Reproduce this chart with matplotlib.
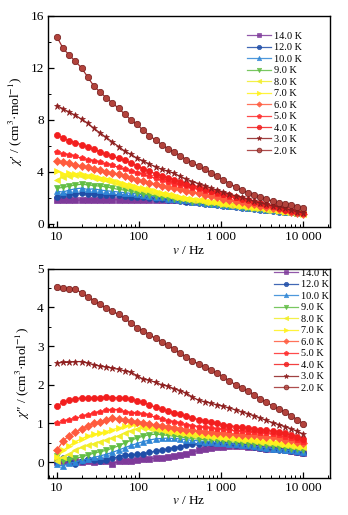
import matplotlib
matplotlib.use("Agg")
import matplotlib.pyplot as plt
from matplotlib.ticker import FixedLocator, LogLocator, NullFormatter, MultipleLocator

plt.rcParams['font.family'] = ['Liberation Serif', 'DejaVu Serif']
plt.rcParams['mathtext.fontset'] = 'stix'

# frequencies (Hz), 10 ... 10000
freq = [10.0, 11.9, 14.1, 16.8, 20.0, 23.7, 28.2, 33.5, 39.8, 47.3,
        56.2, 66.8, 79.4, 94.4, 112.2, 133.4, 158.5, 188.4, 223.9, 266.1,
        316.2, 375.8, 446.7, 530.9, 631.0, 749.9, 891.3, 1059.3, 1258.9, 1496.2,
        1778.3, 2113.5, 2511.9, 2985.4, 3548.1, 4217.0, 5011.9, 5956.6, 7079.5, 8414.0,
        10000.0]

temps = ['14.0 K', '12.0 K', '10.0 K', '9.0 K', '8.0 K', '7.0 K', '6.0 K',
         '5.0 K', '4.0 K', '3.0 K', '2.0 K']

# chi' (in-phase)
chi1_14 = [1.8, 1.8, 1.85, 1.8, 1.85, 1.8, 1.85, 1.8, 1.8, 1.85, 1.85, 1.85, 1.85, 1.85,
           1.85, 1.85, 1.85, 1.85, 1.85, 1.8, 1.8, 1.75, 1.7, 1.65, 1.6, 1.55, 1.5, 1.45,
           1.4, 1.35, 1.3, 1.25, 1.2, 1.15, 1.1, 1.05, 1.0, 0.95, 0.9, 0.85, 0.8]
chi1_12 = [2.1, 2.2, 2.25, 2.3, 2.35, 2.3, 2.3, 2.25, 2.25, 2.2, 2.2, 2.15, 2.1, 2.1,
           2.05, 2.0, 1.95, 1.9, 1.85, 1.8, 1.75, 1.7, 1.65, 1.6, 1.55, 1.5, 1.45, 1.4,
           1.35, 1.3, 1.25, 1.2, 1.15, 1.1, 1.05, 1.0, 0.95, 0.95, 0.9, 0.85, 0.8]
chi1_10 = [2.5, 2.45, 2.6, 2.7, 2.75, 2.65, 2.7, 2.6, 2.55, 2.5, 2.45, 2.4, 2.35, 2.3,
           2.25, 2.15, 2.1, 2.05, 1.95, 1.9, 1.85, 1.8, 1.7, 1.65, 1.6, 1.55, 1.5, 1.45,
           1.4, 1.35, 1.3, 1.25, 1.2, 1.15, 1.1, 1.05, 1.0, 0.95, 0.9, 0.85, 0.8]
chi1_9 = [2.75, 2.8, 2.9, 3.0, 3.05, 3.0, 2.95, 2.9, 2.85, 2.75, 2.65, 2.6, 2.5, 2.4,
          2.3, 2.25, 2.15, 2.05, 2.0, 1.9, 1.85, 1.8, 1.7, 1.65, 1.6, 1.55, 1.5, 1.45,
          1.4, 1.35, 1.3, 1.25, 1.2, 1.15, 1.1, 1.05, 1.0, 0.95, 0.9, 0.85, 0.75]
chi1_8 = [3.4, 3.6, 3.7, 3.75, 3.7, 3.65, 3.55, 3.45, 3.35, 3.2, 3.05, 2.95, 2.85, 2.7,
          2.6, 2.5, 2.4, 2.3, 2.2, 2.1, 2.0, 1.95, 1.85, 1.8, 1.7, 1.65, 1.6, 1.5,
          1.45, 1.4, 1.35, 1.3, 1.25, 1.2, 1.1, 1.05, 1.0, 0.95, 0.9, 0.8, 0.75]
chi1_7 = [4.1, 3.8, 3.9, 3.85, 3.8, 3.7, 3.65, 3.55, 3.45, 3.35, 3.2, 3.1, 3.0, 2.85,
          2.75, 2.65, 2.5, 2.4, 2.3, 2.2, 2.1, 2.0, 1.95, 1.85, 1.8, 1.7, 1.65, 1.55,
          1.5, 1.45, 1.4, 1.3, 1.25, 1.2, 1.15, 1.1, 1.0, 0.95, 0.9, 0.85, 0.75]
chi1_6 = [4.8, 4.75, 4.65, 4.55, 4.45, 4.35, 4.25, 4.15, 4.0, 3.9, 3.8, 3.65, 3.5, 3.4,
          3.3, 3.15, 3.05, 2.95, 2.85, 2.75, 2.65, 2.55, 2.45, 2.35, 2.25, 2.15, 2.05, 1.95,
          1.85, 1.75, 1.65, 1.55, 1.5, 1.4, 1.3, 1.25, 1.15, 1.05, 0.95, 0.85, 0.75]
chi1_5 = [5.5, 5.4, 5.3, 5.2, 5.05, 4.95, 4.85, 4.75, 4.6, 4.5, 4.35, 4.2, 4.1, 3.95,
          3.8, 3.65, 3.5, 3.35, 3.25, 3.1, 3.0, 2.9, 2.75, 2.65, 2.55, 2.45, 2.3, 2.2,
          2.1, 2.0, 1.9, 1.8, 1.7, 1.6, 1.5, 1.4, 1.3, 1.2, 1.05, 0.95, 0.8]
chi1_4 = [6.85, 6.6, 6.4, 6.25, 6.1, 5.9, 5.75, 5.55, 5.35, 5.2, 5.05, 4.9, 4.7, 4.45,
          4.25, 4.05, 3.85, 3.7, 3.55, 3.4, 3.25, 3.1, 2.95, 2.85, 2.7, 2.55, 2.45, 2.3,
          2.2, 2.05, 1.95, 1.8, 1.7, 1.6, 1.45, 1.35, 1.25, 1.1, 1.0, 0.9, 0.8]
chi1_3 = [9.1, 8.85, 8.6, 8.35, 8.05, 7.75, 7.35, 7.0, 6.65, 6.3, 5.95, 5.6, 5.35, 5.05,
          4.85, 4.6, 4.4, 4.2, 4.05, 3.9, 3.65, 3.45, 3.25, 3.1, 2.95, 2.75, 2.6, 2.45,
          2.3, 2.15, 2.05, 1.9, 1.75, 1.6, 1.5, 1.4, 1.3, 1.2, 1.05, 0.95, 0.85]
chi1_2 = [14.4, 13.5, 13.0, 12.5, 12.0, 11.3, 10.6, 10.15, 9.7, 9.3, 8.9, 8.45, 8.0, 7.65,
          7.2, 6.8, 6.45, 6.1, 5.8, 5.55, 5.25, 4.95, 4.7, 4.45, 4.2, 3.95, 3.65, 3.4,
          3.1, 2.85, 2.6, 2.4, 2.2, 2.05, 1.9, 1.75, 1.6, 1.55, 1.45, 1.33, 1.2]

# chi'' (out-of-phase)
chi2_14 = [0.0, 0.02, 0.0, 0.03, 0.01, 0.02, 0.0, 0.02, 0.03, -0.05, 0.02, 0.03, 0.04, 0.05,
           0.07, 0.09, 0.1, 0.11, 0.13, 0.16, 0.19, 0.22, 0.26, 0.3, 0.34, 0.37, 0.39, 0.4,
           0.41, 0.42, 0.41, 0.4, 0.38, 0.37, 0.35, 0.34, 0.33, 0.3, 0.28, 0.26, 0.24]
chi2_12 = [0.0, 0.1, 0.08, -0.04, 0.02, 0.08, 0.05, 0.04, 0.06, 0.1, 0.14, 0.18, 0.18, 0.2,
           0.22, 0.25, 0.28, 0.31, 0.34, 0.37, 0.4, 0.43, 0.46, 0.48, 0.5, 0.5, 0.5, 0.49,
           0.47, 0.45, 0.43, 0.41, 0.39, 0.37, 0.35, 0.33, 0.31, 0.3, 0.28, 0.26, 0.24]
chi2_10 = [-0.05, -0.1, -0.03, 0.0, 0.05, 0.08, 0.12, 0.16, 0.2, 0.25, 0.31, 0.37, 0.43, 0.48,
           0.53, 0.57, 0.6, 0.61, 0.62, 0.61, 0.6, 0.58, 0.56, 0.55, 0.53, 0.52, 0.5, 0.49,
           0.47, 0.46, 0.44, 0.43, 0.41, 0.39, 0.37, 0.35, 0.33, 0.31, 0.3, 0.28, 0.27]
chi2_9 = [0.15, 0.02, 0.05, 0.1, 0.13, 0.18, 0.23, 0.27, 0.3, 0.36, 0.42, 0.49, 0.56, 0.62,
          0.67, 0.71, 0.72, 0.71, 0.69, 0.67, 0.65, 0.63, 0.61, 0.59, 0.58, 0.57, 0.56, 0.54,
          0.53, 0.51, 0.5, 0.48, 0.47, 0.45, 0.43, 0.41, 0.39, 0.37, 0.35, 0.33, 0.31]
chi2_8 = [0.04, 0.12, 0.2, 0.3, 0.38, 0.43, 0.48, 0.53, 0.57, 0.62, 0.68, 0.75, 0.81, 0.86,
          0.89, 0.88, 0.85, 0.82, 0.79, 0.77, 0.75, 0.73, 0.71, 0.69, 0.67, 0.65, 0.64, 0.62,
          0.61, 0.59, 0.58, 0.56, 0.55, 0.53, 0.51, 0.49, 0.47, 0.44, 0.42, 0.4, 0.38]
chi2_7 = [0.13, 0.3, 0.42, 0.53, 0.6, 0.68, 0.72, 0.76, 0.79, 0.84, 0.88, 0.93, 0.97, 0.98,
          0.95, 0.91, 0.88, 0.85, 0.82, 0.8, 0.78, 0.76, 0.74, 0.72, 0.7, 0.69, 0.68, 0.66,
          0.65, 0.63, 0.62, 0.6, 0.59, 0.57, 0.55, 0.53, 0.51, 0.48, 0.46, 0.44, 0.42]
chi2_6 = [0.3, 0.55, 0.68, 0.78, 0.85, 0.94, 1.0, 1.04, 1.1, 1.14, 1.12, 1.08, 1.06, 1.04,
          1.02, 0.99, 0.96, 0.93, 0.9, 0.88, 0.86, 0.84, 0.82, 0.8, 0.79, 0.77, 0.76, 0.75,
          0.73, 0.72, 0.71, 0.7, 0.69, 0.68, 0.66, 0.64, 0.62, 0.58, 0.56, 0.53, 0.5]
chi2_5 = [1.0, 1.05, 1.1, 1.13, 1.18, 1.22, 1.27, 1.3, 1.34, 1.36, 1.36, 1.3, 1.28, 1.26,
          1.24, 1.21, 1.16, 1.11, 1.07, 1.03, 1.0, 0.97, 0.94, 0.92, 0.9, 0.88, 0.86, 0.85,
          0.83, 0.81, 0.8, 0.78, 0.77, 0.76, 0.74, 0.72, 0.7, 0.65, 0.62, 0.58, 0.53]
chi2_4 = [1.45, 1.55, 1.6, 1.64, 1.66, 1.66, 1.67, 1.67, 1.68, 1.67, 1.66, 1.65, 1.63, 1.58,
          1.55, 1.48, 1.42, 1.37, 1.32, 1.28, 1.24, 1.19, 1.14, 1.1, 1.06, 1.03, 1.0, 0.97,
          0.94, 0.92, 0.9, 0.88, 0.86, 0.84, 0.82, 0.8, 0.79, 0.74, 0.7, 0.66, 0.6]
chi2_3 = [2.56, 2.58, 2.58, 2.6, 2.6, 2.56, 2.52, 2.48, 2.46, 2.43, 2.4, 2.36, 2.32, 2.24,
          2.14, 2.12, 2.06, 2.0, 1.96, 1.9, 1.85, 1.78, 1.68, 1.6, 1.56, 1.52, 1.48, 1.44,
          1.4, 1.35, 1.3, 1.25, 1.2, 1.14, 1.08, 1.02, 0.97, 0.92, 0.86, 0.8, 0.72]
chi2_2 = [4.52, 4.5, 4.49, 4.47, 4.38, 4.28, 4.18, 4.08, 3.98, 3.9, 3.82, 3.72, 3.6, 3.48,
          3.4, 3.3, 3.2, 3.1, 3.02, 2.92, 2.82, 2.72, 2.62, 2.54, 2.46, 2.38, 2.3, 2.2,
          2.1, 2.0, 1.92, 1.84, 1.74, 1.64, 1.55, 1.45, 1.37, 1.3, 1.2, 1.1, 0.99]

chi1 = [chi1_14, chi1_12, chi1_10, chi1_9, chi1_8, chi1_7, chi1_6, chi1_5, chi1_4, chi1_3, chi1_2]
chi2 = [chi2_14, chi2_12, chi2_10, chi2_9, chi2_8, chi2_7, chi2_6, chi2_5, chi2_4, chi2_3, chi2_2]

colors = ['#7E3A9A', '#1F4EA8', '#2F86D6', '#62BE45', '#F2EE2A', '#FFF21A',
          '#FF5B3E', '#FF2B2B', '#F21E1E', '#8E1F1F', '#A02E2E']
markers = ['s', 'o', '^', 'v', '<', '>', 'D', 'p', 'o', '*', 'o']
msizes = [3.8, 4.2, 4.2, 4.2, 4.2, 4.2, 3.6, 4.4, 4.4, 4.8, 4.6]

fig = plt.figure(figsize=(3.48, 5.15), dpi=100)
ax1 = fig.add_axes([0.138, 0.559, 0.810, 0.410])
ax2 = fig.add_axes([0.138, 0.072, 0.810, 0.406])

def draw(ax, data, ylim, ymaj, ymin, ylabel, leg_anchor):
    for lab, y, c, m, ms in zip(temps, data, colors, markers, msizes):
        mfc = c
        mec = c
        if lab == '2.0 K':
            mfc = '#B2433C'
            mec = '#6E1616'
        ax.plot(freq, y, color=c, lw=0.9, marker=m, ms=ms, mfc=mfc, mec=mec,
                mew=0.5, label=lab)
    ax.set_xscale('log')
    ax.set_xlim(7.8, 21000)
    ax.set_ylim(*ylim)
    ax.xaxis.set_major_locator(FixedLocator([10, 100, 1000, 10000]))
    ax.set_xticklabels(['10', '100', '1 000', '10 000'])
    ax.xaxis.set_minor_locator(LogLocator(base=10, subs=range(2, 10)))
    ax.xaxis.set_minor_formatter(NullFormatter())
    ax.yaxis.set_major_locator(MultipleLocator(ymaj))
    ax.yaxis.set_minor_locator(MultipleLocator(ymin))
    ax.tick_params(which='both', direction='in', top=False, right=False,
                   labelsize=9.5, pad=3)
    ax.tick_params(which='major', length=4, width=0.9)
    ax.tick_params(which='minor', length=2.2, width=0.7)
    for s in ax.spines.values():
        s.set_linewidth(1.0)
    ax.set_xlabel(r'$v$ / Hz', fontsize=9.5, labelpad=1)
    ax.set_ylabel(ylabel, fontsize=9.5, labelpad=4)
    leg = ax.legend(loc='upper left', bbox_to_anchor=leg_anchor, frameon=False,
                    fontsize=7.4, handlelength=2.4, handletextpad=0.25,
                    labelspacing=0.22, borderpad=0, borderaxespad=0,
                    markerscale=0.75)
    for h in leg.get_lines():
        h.set_alpha(0.85)

draw(ax1, chi1, (-0.25, 16), 4, 2,
     r'$\chi$′ / (cm$^{3}$·mol$^{-1}$)', (0.705, 0.925))
draw(ax2, chi2, (-0.41, 5), 1, 0.5,
     r'$\chi$″ / (cm$^{3}$·mol$^{-1}$)', (0.800, 1.0))

fig.savefig('out.png', dpi=100)
